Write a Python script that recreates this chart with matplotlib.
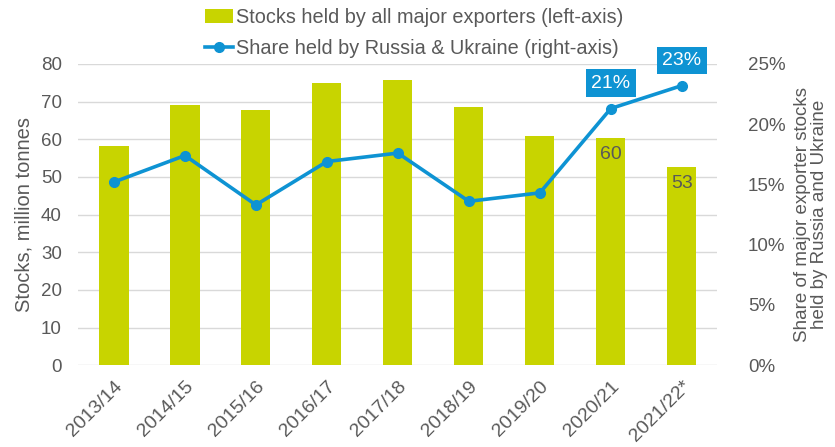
import matplotlib.pyplot as plt
import numpy as np

plt.rcParams['font.family'] = ['Liberation Sans', 'DejaVu Sans']

seasons = ["2013/14", "2014/15", "2015/16", "2016/17", "2017/18",
           "2018/19", "2019/20", "2020/21", "2021/22*"]
stocks = [58.3, 69.0, 67.7, 74.9, 75.6, 68.6, 60.9, 60.4, 52.7]
share_ru_ua = [15.2, 17.4, 13.3, 16.9, 17.6, 13.6, 14.3, 21.3, 23.2]

bar_color = "#C8D400"
line_color = "#0E93D3"
text_gray = "#595959"


def main():
    fig = plt.figure(figsize=(8.35, 4.47), dpi=100)
    ax = fig.add_axes([0.094, 0.183, 0.765, 0.674])
    ax2 = ax.twinx()

    x = np.arange(len(seasons))
    bars = ax.bar(x, stocks, width=0.41, color=bar_color, zorder=2,
                  label="Stocks held by all major exporters (left-axis)")
    line, = ax2.plot(x, share_ru_ua, color=line_color, lw=2.6, marker='o',
                     ms=7, zorder=3,
                     label="Share held by Russia & Ukraine (right-axis)")

    ax.set_xlim(-0.5, len(seasons) - 0.5)
    ax.set_ylim(0, 80)
    ax.set_yticks(range(0, 81, 10))
    ax2.set_ylim(0, 25)
    ax2.set_yticks(range(0, 26, 5))
    ax2.set_yticklabels([f"{v}%" for v in range(0, 26, 5)])

    ax.set_xticks(x)
    ax.set_xticklabels(seasons, rotation=45, ha='right', rotation_mode='anchor')

    ax.grid(axis='y', color='#D9D9D9', lw=1, zorder=0)
    ax.set_axisbelow(True)
    for a in (ax, ax2):
        for s in a.spines.values():
            s.set_visible(False)
        a.tick_params(length=0, labelsize=13.5, colors=text_gray)
    ax.tick_params(axis='x', pad=9, labelsize=14)
    ax.tick_params(axis='y', pad=12)
    ax2.tick_params(axis='y', pad=22)

    ax.set_ylabel("Stocks, million tonnes", fontsize=14.5, color=text_gray,
                  labelpad=5)
    ax2.set_ylabel("Share of major exporter stocks\nheld by Russia and Ukraine",
                   fontsize=13.5, color=text_gray, labelpad=6,
                   linespacing=1.0)

    # value labels on last two bars
    for i in (7, 8):
        ax.text(x[i], stocks[i] - 2.3, f"{stocks[i]:.0f}", ha='center',
                va='top', fontsize=14, color=text_gray, zorder=4)

    # boxed labels on last two line points
    for i in (7, 8):
        ax2.annotate(f"{share_ru_ua[i]:.0f}%", (x[i], share_ru_ua[i]),
                     xytext=(0, 12), textcoords='offset points',
                     ha='center', va='bottom', fontsize=14, color='white',
                     bbox=dict(boxstyle='square,pad=0.28', fc=line_color,
                               ec='none'), zorder=5)

    fig.legend(handles=[bars, line], loc='upper center',
               bbox_to_anchor=(0.496, 1.022), frameon=False, fontsize=14.3,
               labelcolor=text_gray, handlelength=1.4, handletextpad=0.15,
               labelspacing=0.62)

    plt.savefig('out.png', dpi=100)


if __name__ == '__main__':
    main()
